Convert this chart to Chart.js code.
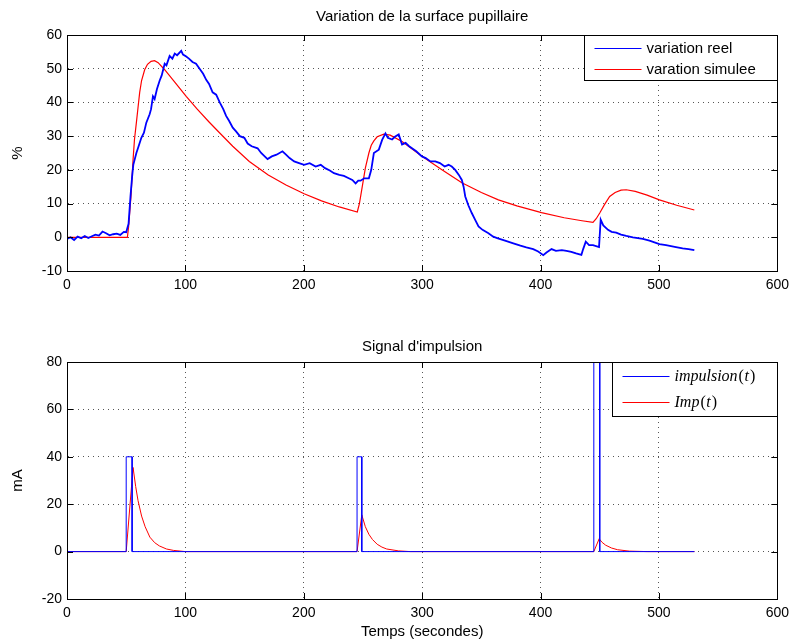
<!DOCTYPE html>
<html>
<head>
<meta charset="utf-8">
<script src="https://cdn.jsdelivr.net/npm/chart.js@4.4.0/dist/chart.umd.min.js"></script>
<style>
html, body { margin: 0; padding: 0; background: #fff; }
#wrap { position: relative; width: 795px; height: 644px; }
#top, #bottom { position: absolute; left: 0; }
#top { top: 0; }
#bottom { top: 322px; }
</style>
</head>
<body>
<div id="wrap">
  <canvas id="top" width="795" height="322"></canvas>
  <canvas id="bottom" width="795" height="322"></canvas>
</div>
<script>
// --- data ---
const xTicks = [0, 100, 200, 300, 400, 500, 600];
const topYTicks = [-10, 0, 10, 20, 30, 40, 50, 60];
const bottomYTicks = [-20, 0, 20, 40, 60, 80];

// variation reel (measured, noisy)
const reelTime = [0, 3, 6, 9, 12, 15, 18, 21, 24, 27, 30, 33, 36, 39, 42, 45, 48, 50, 52, 53.6, 55, 56, 58.6, 60, 62.8, 65, 67, 69.8, 71, 72.6, 74, 76, 78.3, 80, 82.5, 84, 86.7, 89, 91, 93, 96.5, 98, 100.7, 103, 106, 109, 112, 115, 117.6, 120, 123, 126, 129, 132, 134.4, 137, 140, 142.8, 146, 149.8, 152.6, 156, 161, 164, 167, 169.4, 173, 177, 182, 185, 188, 191.9, 196, 200.3, 205, 210, 214.3, 218, 222, 225.5, 230, 233.9, 238, 241, 243.8, 246, 248, 251, 255, 257, 259.2, 263.4, 266.2, 269, 271, 274.6, 277, 280.2, 283, 286, 289, 291.4, 295, 299.8, 303, 307, 311.1, 315, 319, 322.3, 325, 327.9, 331, 333.5, 335, 336.4, 339, 341.9, 345, 347.6, 351, 356, 360, 364, 370, 377, 383, 388, 393.8, 398, 402.3, 405, 409.3, 413, 418, 421.9, 426, 430, 434.5, 436, 438.2, 441, 444.3, 449.4, 450.8, 453, 457, 460, 463.9, 468, 472.4, 478, 486.4, 492, 500.4, 506, 514.4, 520, 525, 529.9];
const reelValue = [-0.5, 0, -0.8, 0.2, -0.3, 0.4, -0.2, 0.3, 0.8, 0.5, 1.7, 1.2, 0.6, 0.9, 1.1, 0.7, 1.6, 1.5, 4, 12, 18, 21.5, 25, 26.5, 29.5, 31, 34, 36.5, 38, 41.8, 41, 44, 46.5, 48, 51.5, 51, 53.8, 53, 54.5, 54, 55.3, 54.2, 53.6, 53, 52, 51.5, 50, 48.5, 46.7, 45.5, 43, 42.3, 40, 38, 36, 34.5, 32.5, 31.4, 30, 29.5, 27.8, 27, 26.4, 25, 24, 23.2, 24, 24.5, 25.5, 24.5, 23.5, 22.5, 22, 21.5, 22, 21, 21.5, 20.5, 19.8, 19, 18.5, 18.2, 17.5, 17, 16, 16.8, 16.8, 17.5, 17.5, 20, 25, 26, 28.9, 30.8, 29.5, 29, 29.8, 30.5, 27.5, 28, 27, 26.4, 25.5, 24, 23.5, 22.5, 22.5, 22, 21, 21.5, 21, 20, 18.5, 17, 15, 12.1, 9.5, 7.2, 5, 3.2, 2.2, 1.2, 0.2, -0.3, -1, -1.8, -2.5, -3, -3.5, -4.2, -5.3, -4.5, -3.5, -4, -3.8, -4, -4.3, -4.8, -5.2, -3.5, -1.3, -2.3, -2.3, -2.9, 5.2, 3.5, 2.2, 1.6, 1.4, 0.8, 0.4, 0, -0.5, -1, -2, -2.3, -2.9, -3.3, -3.5, -3.8];

// varation simulee
const simTime = [0, 51, 52, 54, 55.8, 57, 58.6, 60, 61.4, 63, 65.6, 68, 71, 74, 77, 82.5, 90, 100.7, 110, 120, 128.8, 140, 154, 170, 185, 200.3, 215, 230, 245.2, 247, 249.4, 252, 255, 257, 259.2, 262, 267.6, 273, 283, 299.8, 316.7, 333.5, 350, 364.4, 380, 400.8, 420, 435, 444.3, 447, 450, 454, 458.4, 463, 468, 472.4, 480, 490, 500.4, 515, 529.9];
const simValue = [0, 0, 3, 12, 23, 29, 34, 38.5, 43, 46.5, 49.7, 51.3, 52.2, 52.4, 51.8, 49.7, 46.5, 41.8, 38, 34.2, 31, 27, 22.5, 18.5, 15.5, 12.9, 10.8, 9, 7.5, 10, 15, 20.5, 25, 27.3, 28.6, 29.8, 30.6, 30.3, 28.4, 24, 20, 16.2, 13.3, 11.1, 9.3, 7.3, 5.8, 4.9, 4.4, 5.5, 7.2, 9.7, 12.1, 13.3, 14, 14.1, 13.6, 12.5, 11.1, 9.5, 8.1];

// impulsion(t) : rectangular pulses (third one goes off the top)
const impTime = [0, 50, 50, 55, 55, 245, 245, 249, 249, 445, 445, 450, 450, 530];
const impValue = [0, 0, 40, 40, 0, 0, 40, 40, 0, 0, 100, 100, 0, 0];

// Imp(t)
const ImpTime = [0, 50, 55.8, 58, 60, 63, 66, 70, 74, 78, 84, 90, 100, 245, 249, 252, 255, 258, 262, 266, 270, 280, 290, 445, 449.5, 452, 455, 460, 465, 475, 490, 530];
const ImpValue = [0, 0, 35.5, 27.5, 21.5, 15, 10.5, 6.1, 3.8, 2.4, 1.1, 0.5, 0, 0, 15.5, 10.5, 7.3, 5.1, 3.1, 1.9, 1.1, 0.3, 0, 0, 5.4, 3.9, 2.7, 1.5, 0.8, 0.2, 0, 0];

const pts = (xs, ys) => xs.map((x, i) => ({ x: x, y: ys[i] }));

const tickFont = { family: 'Liberation Sans, Arial, sans-serif', size: 14 };

// draws the matlab-ish box, inner tick marks, titles and the legend
const matlabFrame = {
  id: 'matlabFrame',
  afterDraw(chart, args, opts) {
    const ctx = chart.ctx;
    const a = chart.chartArea;
    const sx = chart.scales.x, sy = chart.scales.y;
    ctx.save();
    ctx.strokeStyle = '#000';
    ctx.lineWidth = 1;
    ctx.beginPath();
    sx.ticks.forEach(t => {
      const px = Math.round(sx.getPixelForValue(t.value)) + 0.5;
      ctx.moveTo(px, a.bottom); ctx.lineTo(px, a.bottom - 6);
      ctx.moveTo(px, a.top); ctx.lineTo(px, a.top + 6);
    });
    sy.ticks.forEach(t => {
      const py = Math.round(sy.getPixelForValue(t.value)) + 0.5;
      ctx.moveTo(a.left, py); ctx.lineTo(a.left + 6, py);
      ctx.moveTo(a.right, py); ctx.lineTo(a.right - 6, py);
    });
    ctx.stroke();
    ctx.strokeRect(Math.round(a.left) + 0.5, Math.round(a.top) + 0.5, Math.round(a.right - a.left), Math.round(a.bottom - a.top));

    // titles
    ctx.fillStyle = '#000';
    ctx.font = '15px Liberation Sans, Arial, sans-serif';
    ctx.textAlign = 'center';
    ctx.textBaseline = 'middle';
    ctx.fillText(opts.title, (a.left + a.right) / 2, opts.titleY);
    if (opts.xLabel) ctx.fillText(opts.xLabel, (a.left + a.right) / 2, opts.xLabelY);
    ctx.save();
    ctx.translate(18, (a.top + a.bottom) / 2);
    ctx.rotate(-Math.PI / 2);
    ctx.fillText(opts.yLabel, 0, 0);
    ctx.restore();

    // legend box
    const bx = Math.round(a.right - opts.legendW) + 0.5, by = Math.round(a.top) + 0.5;
    ctx.fillStyle = '#fff';
    ctx.fillRect(bx, by, opts.legendW, opts.legendH);
    ctx.strokeStyle = '#000';
    ctx.strokeRect(bx, by, opts.legendW, opts.legendH);
    chart.data.datasets.forEach((ds, i) => {
      const ly = by + opts.legendRow0 + i * opts.legendRowGap;
      ctx.strokeStyle = ds.borderColor;
      ctx.lineWidth = 1;
      ctx.beginPath();
      ctx.moveTo(bx + 10, ly); ctx.lineTo(bx + 10 + opts.legendLine, ly);
      ctx.stroke();
      ctx.fillStyle = '#000';
      ctx.textAlign = 'left';
      const tx = bx + 15 + opts.legendLine;
      if (opts.math) {
        // italic letters, upright parentheses
        let x = tx;
        ds.label.split(/([()])/).forEach(part => {
          if (!part) return;
          const upright = part === '(' || part === ')';
          ctx.font = (upright ? '' : 'italic ') + '16px Liberation Serif, Times New Roman, serif';
          ctx.fillText(part, x, ly);
          x += ctx.measureText(part).width + (upright ? 0.5 : 1);
        });
      } else {
        ctx.font = '15px Liberation Sans, Arial, sans-serif';
        ctx.fillText(ds.label, tx, ly);
      }
    });
    ctx.restore();
  }
};

function axes(yTicks, xHeight) {
  const gridOpts = { color: '#555', lineWidth: 1, drawTicks: false };
  const borderOpts = { display: true, color: '#000', dash: [1, 4] };
  return {
    x: {
      type: 'linear',
      min: xTicks[0], max: xTicks[xTicks.length - 1],
      afterBuildTicks: s => { s.ticks = xTicks.map(v => ({ value: v })); },
      afterFit: s => { s.height = xHeight; },
      grid: gridOpts, border: borderOpts,
      ticks: { font: tickFont, color: '#000', padding: 6, maxRotation: 0 }
    },
    y: {
      min: yTicks[0], max: yTicks[yTicks.length - 1],
      afterBuildTicks: s => { s.ticks = yTicks.map(v => ({ value: v })); },
      afterFit: s => { s.width = 67; },
      grid: gridOpts, border: borderOpts,
      ticks: { font: tickFont, color: '#000', padding: 5 }
    }
  };
}

function makeChart(id, datasets, yTicks, padTop, xHeight, frameOpts) {
  return new Chart(document.getElementById(id).getContext('2d'), {
    type: 'line',
    data: { datasets: datasets },
    options: {
      responsive: false,
      animation: false,
      layout: { padding: { top: padTop, right: 15, left: 0, bottom: 0 } },
      elements: { point: { radius: 0 }, line: { tension: 0 } },
      plugins: { legend: { display: false }, tooltip: { enabled: false }, matlabFrame: frameOpts },
      scales: axes(yTicks, xHeight)
    },
    plugins: [matlabFrame]
  });
}

makeChart('top', [
  { label: 'variation reel', data: pts(reelTime, reelValue), borderColor: '#0000ff', borderWidth: 1.8 },
  { label: 'varation simulee', data: pts(simTime, simValue), borderColor: '#ff0000', borderWidth: 1.2 }
], topYTicks, 35, 51, {
  title: 'Variation de la surface pupillaire', titleY: 17, yLabel: '%',
  legendW: 193, legendH: 45, legendRow0: 13, legendRowGap: 21, legendLine: 47, math: false
});

makeChart('bottom', [
  { label: 'impulsion(t)', data: pts(impTime, impValue), borderColor: '#0000ff', borderWidth: 1 },
  { label: 'Imp(t)', data: pts(ImpTime, ImpValue), borderColor: '#ff0000', borderWidth: 1 }
], bottomYTicks, 40, 45, {
  title: "Signal d'impulsion", titleY: 25, yLabel: 'mA', xLabel: 'Temps (secondes)', xLabelY: 310,
  legendW: 165, legendH: 54, legendRow0: 14, legendRowGap: 26, legendLine: 47, math: true
});
</script>
</body>
</html>
